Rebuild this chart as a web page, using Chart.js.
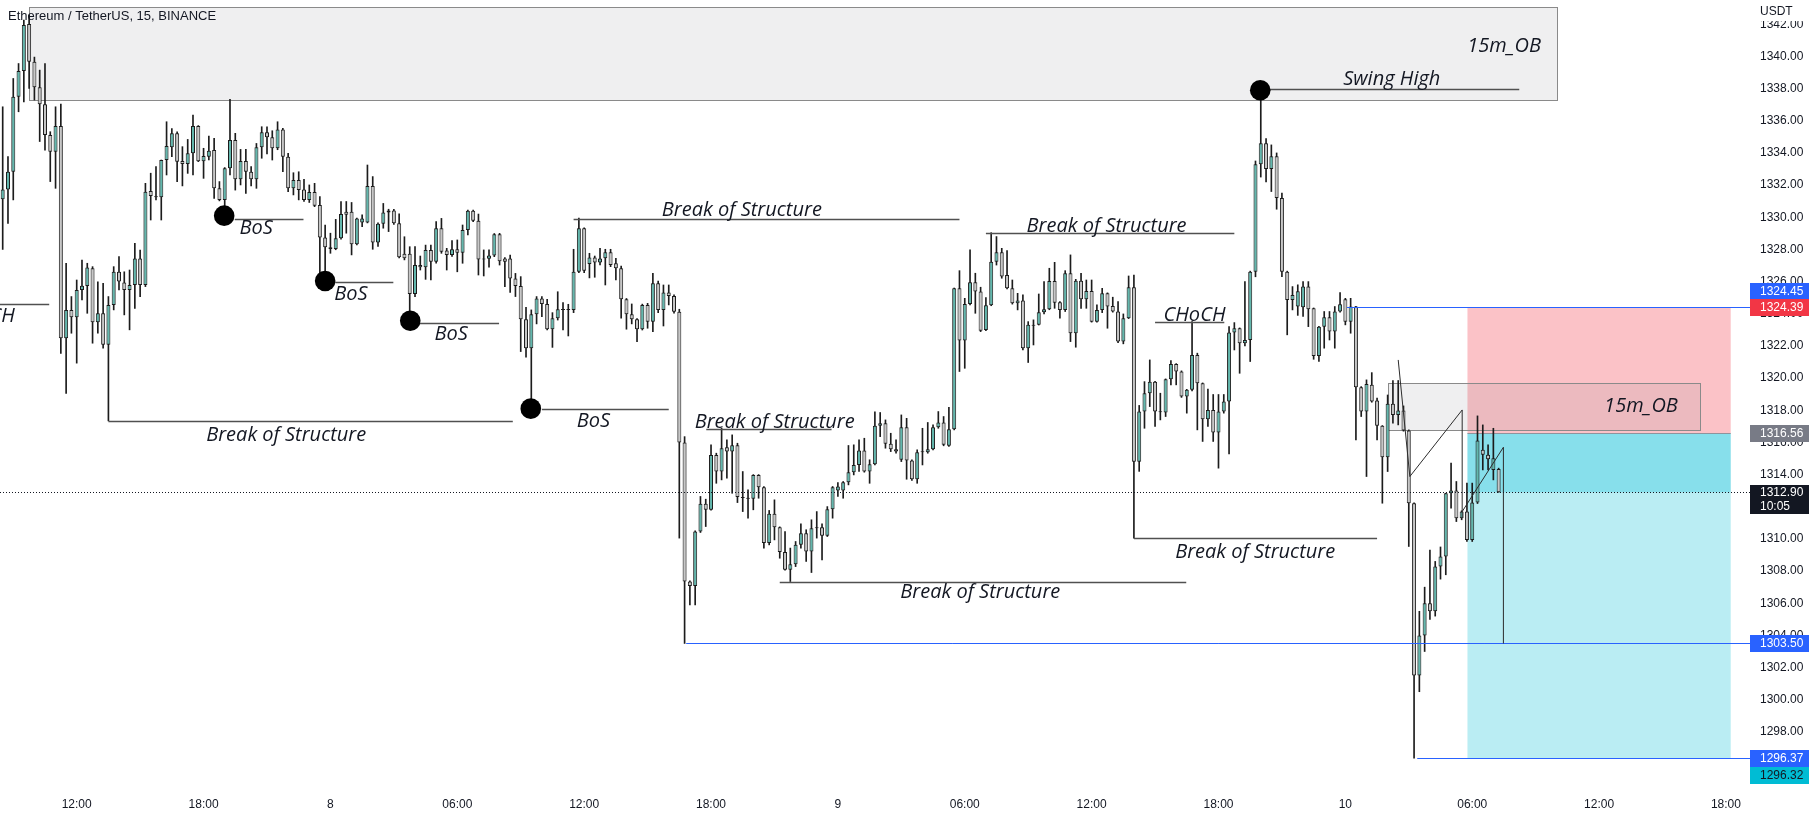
<!DOCTYPE html>
<html><head><meta charset="utf-8">
<script src="https://cdn.jsdelivr.net/npm/chart.js@4.4.1/dist/chart.umd.min.js"></script>
<style>
html,body{margin:0;padding:0;background:#fff;}
canvas{display:block;}
</style></head><body>
<canvas id="c" width="1814" height="818"></canvas>
<script>
// ---- data: 15m candles, bar index 0 = 12:00 on the 7th ----
const firstBar = -14;
const opens = [
1331.12,1331.73,1332.83,1337.49,1339.09,1342.01,1339.67,1338.08,1337.02,1335.11,
1334.08,1335.67,1322.47,1324.24,1323.78,1325.48,1325.72,1326.83,1323.47,1324.03,
1322.07,1324.54,1326.61,1325.94,1325.48,1325.79,1327.44,1325.79,1331.63,1331.30,
1331.24,1333.56,1334.35,1335.22,1333.50,1333.31,1333.98,1335.67,1333.48,1333.77,
1334.18,1331.80,1331.08,1333.05,1334.80,1332.36,1333.50,1332.83,1332.36,1334.35,
1335.28,1334.97,1334.29,1335.46,1333.77,1331.80,1332.32,1331.73,1331.08,1331.57,
1330.76,1328.75,1328.14,1328.02,1328.69,1330.35,1330.35,1328.32,1329.67,1329.67,
1331.95,1328.43,1329.59,1330.29,1330.42,1329.63,1327.73,1327.73,1325.23,1327.03,
1326.89,1327.97,1327.24,1329.31,1327.93,1327.66,1328.01,1327.80,1329.21,1330.40,
1329.79,1327.38,1327.42,1327.63,1328.94,1327.44,1327.44,1326.20,1325.72,1323.66,
1321.86,1323.97,1324.95,1324.61,1323.04,1323.72,1324.28,1324.24,1324.24,1326.61,
1329.31,1327.10,1327.50,1327.18,1327.45,1327.82,1327.14,1326.83,1324.90,1323.97,
1323.66,1323.04,1324.55,1323.51,1325.90,1324.24,1325.32,1325.11,1324.13,1315.99,
1307.35,1307.08,1310.46,1312.18,1311.81,1315.22,1314.19,1315.70,1315.43,1315.83,
1312.60,1312.55,1312.49,1313.98,1313.22,1309.74,1311.56,1310.73,1309.18,1308.08,
1308.43,1309.63,1310.36,1309.22,1310.67,1310.73,1310.19,1311.85,1313.01,1313.01,
1313.52,1314.15,1314.60,1315.50,1314.19,1314.65,1317.03,1317.19,1315.91,1315.58,
1314.92,1316.95,1314.87,1313.71,1315.39,1315.39,1315.58,1316.95,1317.24,1315.79,
1316.82,1325.58,1322.33,1324.61,1325.96,1325.38,1322.99,1324.53,1327.24,1327.82,
1326.41,1325.58,1324.65,1324.82,1321.86,1323.31,1323.31,1324.09,1324.28,1326.04,
1324.71,1324.24,1326.52,1322.79,1326.06,1324.90,1325.42,1323.51,1324.24,1325.27,
1324.49,1324.14,1322.27,1323.72,1325.65,1314.80,1317.92,1319.06,1319.78,1317.92,
1317.86,1319.93,1320.88,1320.41,1318.85,1319.27,1321.44,1319.68,1317.44,1318.02,
1316.62,1317.92,1318.54,1322.83,1323.10,1322.17,1322.37,1326.62,1333.30,1334.60,
1333.00,1333.80,1331.20,1326.62,1324.86,1324.45,1324.40,1325.69,1324.34,1321.38,
1323.20,1323.78,1322.89,1324.14,1324.90,1323.51,1324.45,1319.43,1317.92,1319.58,
1318.60,1317.03,1315.08,1318.40,1317.71,1317.98,1316.74,1312.22,1301.50,1304.00,
1306.00,1305.50,1308.29,1308.91,1312.84,1313.01,1311.29,1311.70,1309.94,1312.26,
1315.54,1315.23,1314.29,1314.34];
const highs = [
1336.87,1333.77,1338.63,1339.56,1342.26,1342.57,1339.96,1339.15,1339.56,1335.32,
1336.87,1337.04,1327.14,1325.07,1326.10,1327.34,1327.14,1326.93,1325.99,1325.89,
1325.07,1326.93,1327.56,1326.61,1326.72,1328.38,1327.96,1332.11,1332.74,1333.15,
1333.56,1335.94,1335.52,1335.32,1334.39,1334.84,1336.35,1335.70,1334.29,1335.05,
1334.91,1332.22,1333.09,1337.33,1335.22,1334.22,1334.22,1333.15,1334.59,1335.63,
1335.63,1335.38,1335.94,1335.53,1333.98,1332.77,1332.83,1332.36,1332.01,1332.11,
1331.28,1329.52,1329.01,1329.87,1330.98,1330.98,1330.92,1329.95,1330.15,1333.25,
1332.53,1329.65,1330.86,1330.50,1330.50,1330.21,1328.79,1328.17,1328.17,1327.59,
1328.27,1328.27,1329.73,1329.93,1328.07,1328.55,1328.59,1329.52,1330.45,1330.45,
1330.20,1327.97,1327.97,1328.99,1329.00,1327.50,1327.65,1326.51,1326.31,1324.40,
1324.24,1325.07,1325.07,1324.89,1324.07,1325.37,1324.69,1324.59,1328.01,1329.95,
1329.35,1327.76,1327.59,1328.07,1328.01,1328.01,1327.45,1326.97,1324.95,1324.61,
1323.70,1324.60,1324.65,1326.52,1326.04,1325.79,1325.79,1325.17,1324.28,1316.36,
1307.40,1310.50,1312.64,1312.47,1315.85,1315.33,1316.88,1316.16,1316.47,1315.95,
1314.19,1313.05,1314.00,1314.00,1313.25,1311.77,1312.43,1310.75,1310.46,1309.43,
1309.84,1310.94,1310.57,1311.19,1311.70,1310.94,1312.01,1313.26,1313.51,1313.57,
1315.81,1315.85,1316.16,1316.26,1314.92,1317.90,1317.86,1317.40,1316.57,1316.16,
1317.71,1317.50,1314.92,1315.54,1316.88,1317.24,1317.09,1317.92,1317.61,1318.19,
1325.60,1326.68,1324.96,1327.97,1326.52,1325.65,1325.00,1329.04,1328.80,1328.07,
1327.93,1326.10,1325.27,1325.17,1323.51,1323.62,1325.23,1326.00,1326.83,1327.20,
1324.75,1326.68,1327.66,1326.14,1326.52,1326.10,1326.10,1324.55,1325.58,1325.30,
1325.03,1324.76,1323.99,1326.35,1326.41,1318.30,1319.78,1321.13,1319.80,1319.06,
1319.95,1321.09,1320.90,1320.45,1319.30,1323.51,1321.55,1319.70,1319.31,1318.98,
1318.98,1318.98,1323.20,1323.45,1323.12,1326.00,1326.65,1333.50,1337.90,1334.90,
1334.50,1334.00,1331.50,1326.65,1325.69,1325.80,1326.00,1326.00,1324.36,1323.22,
1324.14,1324.14,1324.45,1325.31,1324.96,1324.96,1324.47,1319.47,1319.89,1320.34,
1318.75,1317.05,1318.95,1319.85,1319.85,1318.27,1316.78,1312.25,1305.50,1307.00,
1309.30,1308.60,1309.50,1312.84,1314.71,1313.57,1311.75,1313.47,1313.47,1317.65,
1317.09,1315.85,1316.88,1314.40];
const lows = [
1328.00,1329.62,1331.08,1336.56,1337.18,1338.01,1337.29,1334.71,1334.18,1332.22,
1331.80,1321.54,1319.05,1322.79,1320.93,1324.86,1324.03,1322.17,1322.79,1321.86,
1317.34,1324.24,1325.48,1323.93,1323.00,1324.34,1325.07,1325.69,1329.83,1331.08,
1329.83,1332.63,1333.77,1332.22,1331.95,1332.73,1332.63,1333.46,1332.42,1333.56,
1331.18,1331.02,1330.66,1332.63,1331.69,1332.01,1331.49,1331.95,1331.80,1333.67,
1333.94,1333.56,1334.20,1332.83,1331.59,1331.39,1331.08,1330.98,1330.92,1330.66,
1326.52,1326.42,1327.76,1327.98,1328.64,1329.01,1327.66,1328.28,1329.42,1329.65,
1328.01,1328.18,1329.32,1329.11,1329.55,1327.48,1327.35,1324.00,1325.06,1326.72,
1326.14,1326.10,1327.14,1327.76,1326.72,1327.56,1326.61,1327.14,1328.91,1329.73,
1326.41,1326.35,1326.89,1327.55,1327.03,1325.68,1325.33,1325.07,1321.65,1321.30,
1318.12,1323.37,1323.82,1323.00,1321.91,1323.61,1323.00,1322.62,1324.07,1326.55,
1326.55,1326.23,1326.27,1327.03,1325.79,1326.93,1326.10,1323.72,1323.04,1323.37,
1322.27,1322.99,1323.10,1322.89,1324.07,1323.24,1324.55,1324.03,1310.05,1303.50,
1305.90,1305.90,1310.40,1310.77,1311.78,1313.46,1313.67,1313.78,1312.84,1312.26,
1311.70,1311.29,1311.81,1312.53,1309.43,1309.63,1309.94,1308.80,1308.05,1307.35,
1308.28,1309.43,1308.60,1307.91,1310.05,1308.70,1310.15,1311.29,1312.64,1312.53,
1313.36,1313.98,1314.19,1314.15,1313.46,1314.60,1316.36,1315.64,1315.43,1315.33,
1314.81,1313.71,1313.63,1313.46,1314.60,1315.33,1315.54,1316.88,1315.79,1315.75,
1316.78,1320.41,1320.61,1324.55,1324.03,1322.89,1322.95,1324.50,1327.03,1326.21,
1325.55,1324.60,1324.24,1321.75,1320.97,1322.06,1323.30,1323.99,1324.25,1324.34,
1323.72,1324.14,1322.27,1321.92,1324.34,1324.34,1323.48,1323.48,1324.07,1323.10,
1324.10,1322.21,1322.13,1323.70,1310.05,1314.20,1316.88,1318.23,1316.99,1317.40,
1317.61,1319.58,1319.58,1318.80,1317.82,1319.20,1316.78,1316.06,1316.99,1316.06,
1314.40,1317.82,1315.29,1321.75,1320.30,1322.00,1321.03,1326.30,1332.50,1332.20,
1331.60,1330.50,1326.31,1322.69,1324.24,1323.90,1323.83,1323.20,1321.17,1321.03,
1321.86,1322.37,1321.86,1324.10,1323.31,1322.79,1316.16,1317.61,1313.88,1318.50,
1316.16,1312.22,1314.19,1317.19,1317.09,1316.70,1309.53,1296.37,1300.50,1303.00,
1305.00,1305.20,1307.50,1307.77,1311.91,1311.08,1311.19,1309.84,1309.84,1312.20,
1314.29,1314.29,1313.67,1312.90];
const closes = [
1331.73,1332.83,1337.49,1339.09,1341.95,1339.67,1338.08,1337.02,1335.11,1334.08,
1335.67,1322.47,1324.24,1323.78,1325.48,1325.74,1326.87,1323.47,1324.03,1322.07,
1324.54,1326.61,1326.00,1325.48,1325.79,1327.44,1325.79,1331.59,1331.32,1331.24,
1333.56,1334.43,1335.22,1333.46,1333.31,1333.98,1335.67,1333.48,1333.81,1334.14,
1331.80,1331.08,1333.05,1334.80,1332.36,1333.50,1332.83,1332.36,1334.35,1335.28,
1334.97,1334.29,1335.46,1333.77,1331.80,1332.32,1331.69,1331.08,1331.57,1330.72,
1328.75,1328.14,1328.02,1328.69,1330.21,1330.15,1328.32,1329.93,1329.93,1331.95,
1328.43,1329.59,1330.29,1330.42,1329.63,1327.52,1327.45,1325.23,1327.03,1326.89,
1327.97,1327.24,1329.31,1327.86,1327.66,1328.01,1327.80,1329.21,1330.40,1329.79,
1327.38,1327.42,1327.63,1328.94,1327.26,1327.24,1326.20,1325.72,1323.66,1321.86,
1323.97,1324.95,1324.61,1323.04,1323.72,1324.28,1324.24,1324.28,1326.61,1329.31,
1326.68,1327.50,1327.18,1327.44,1327.82,1327.04,1326.83,1324.90,1323.97,1323.66,
1323.04,1324.55,1323.51,1325.90,1324.24,1325.32,1325.11,1324.13,1315.99,1307.35,
1307.08,1310.46,1312.18,1311.81,1315.22,1314.19,1315.64,1315.43,1315.83,1312.60,
1312.55,1312.49,1313.98,1313.22,1309.74,1311.56,1310.73,1309.18,1308.08,1308.43,
1309.63,1310.36,1309.22,1310.67,1310.73,1310.19,1311.85,1313.22,1313.26,1313.52,
1314.15,1314.60,1315.50,1314.19,1314.65,1317.03,1317.19,1315.91,1315.58,1315.43,
1316.95,1314.87,1313.71,1315.39,1315.43,1315.58,1316.95,1317.24,1315.85,1316.82,
1325.58,1322.33,1324.61,1325.96,1325.38,1322.95,1324.53,1327.24,1327.82,1326.31,
1325.58,1324.65,1324.82,1321.86,1323.31,1323.26,1324.09,1324.28,1326.04,1324.69,
1324.24,1326.52,1322.79,1326.06,1324.90,1325.42,1323.51,1324.24,1325.27,1324.45,
1324.14,1322.27,1323.72,1325.65,1314.80,1317.92,1319.06,1319.78,1317.92,1317.88,
1319.93,1320.88,1320.41,1318.85,1319.27,1321.44,1319.68,1317.44,1318.02,1316.62,
1317.92,1318.54,1322.83,1323.10,1322.17,1322.37,1326.62,1333.30,1334.60,1333.00,
1333.80,1331.20,1326.62,1324.86,1325.17,1325.40,1325.69,1324.28,1321.38,1323.20,
1323.78,1322.89,1324.14,1324.59,1323.51,1324.45,1319.43,1317.92,1319.64,1318.54,
1317.03,1315.08,1318.40,1317.71,1317.98,1316.74,1312.22,1301.50,1304.00,1306.00,
1305.50,1308.29,1308.91,1312.84,1313.01,1311.29,1311.70,1309.94,1312.26,1316.12,
1315.23,1314.96,1315.02,1312.90];

// time axis tick labels (bar index -> label)
const timeTickIdx = [0,24,48,72,96,120,144,168,192,216,240,264,288,312];
const timeTickLabels = ['12:00','18:00','8','06:00','12:00','18:00','9','06:00','12:00','18:00','10','06:00','12:00','18:00'];
// price axis ticks
const priceTickFrom = 1296, priceTickTo = 1342, priceTickStep = 2;

// drawing objects (bar index, price)
const obBoxes = [
  {x0:-9, x1:280, lo:1337.29, hi:1343.09},
  {x0:248.1, x1:307.1, lo:1316.78, hi:1319.68}
];
const trade = {x0:263.1, x1:312.9, stop:1324.39, entry:1316.56, target:1296.37, last:1312.90};
const structLines = [
  [29.9,42.9,1329.91],[48.9,59.9,1325.98],[64.9,79.9,1323.45],[88.0,112.0,1318.07],
  [6,82.5,1317.34],[94,167,1329.92],[172,219,1329.04],[119.1,142.8,1316.82],
  [133,209.9,1307.35],[200,246,1310.05],[204,217.1,1323.51],[-15,-5.2,1324.59],
  [223.9,272.9,1337.96]
];
const swingPoints = [[27.9,1330.10],[47.0,1326.04],[63.1,1323.57],[85.9,1318.10],[223.9,1337.9]];
const notes = [
  ['Break of Structure',24.5,1316.47,'left'],['Break of Structure',110.7,1330.42,'left'],
  ['Break of Structure',179.7,1329.42,'left'],['Break of Structure',116.9,1317.23,'left'],
  ['Break of Structure',155.8,1306.71,'left'],['Break of Structure',207.8,1309.18,'left'],
  ['BoS',30.8,1329.32,'left'],['BoS',48.7,1325.23,'left'],['BoS',67.7,1322.75,'left'],['BoS',94.6,1317.30,'left'],
  ['CHoCH',205.6,1323.93,'left'],['CHoCH',-11.7,1323.82,'right'],
  ['Swing High',239.6,1338.58,'left'],['15m_OB',277,1340.65,'right'],['15m_OB',302.9,1318.27,'right']
];
const blueRays = [[240.3,1324.45],[115.3,1303.50],[253.6,1296.37]];
const pathA = [[250.0,1321.13],[252.2,1313.88],[262.1,1318.02],[262.1,1311.29]];
const pathB = [[262.1,1311.70],[269.9,1315.70],[269.9,1303.50]];
const priceTags = [
  [1324.45,'#2962ff','#ffffff',-15],[1324.39,'#f23645','#ffffff',0],[1316.56,'#787b86','#ffffff',0],
  [1303.50,'#2962ff','#ffffff',0],[1296.37,'#2962ff','#ffffff',0],[1296.32,'#00bcd4','#131722',16.5]
];

const UP = '#63b7ad', DOWN = '#c7c7c7', EDGE = '#1c1c1c';
const bars = opens.map((o,k)=>firstBar+k);
const bodies = bars.map((x,k)=>({x, y:[opens[k], closes[k]]}));
const wicks = bars.map((x,k)=>({x, y:[lows[k], highs[k]]}));

const overlay = {
  id:'overlay',
  beforeDatasetsDraw(chart){
    const {ctx, chartArea:a, scales:{x,y}} = chart;
    const X=v=>x.getPixelForValue(v), Y=v=>y.getPixelForValue(v);
    ctx.save();
    ctx.beginPath(); ctx.rect(a.left,a.top,a.right-a.left,a.bottom-a.top); ctx.clip();
    const t = trade;
    ctx.fillStyle='rgba(242,54,69,0.30)';
    ctx.fillRect(X(t.x0),Y(t.stop),X(t.x1)-X(t.x0),Y(t.entry)-Y(t.stop));
    ctx.fillStyle='rgba(0,188,212,0.27)';
    ctx.fillRect(X(t.x0),Y(t.entry),X(t.x1)-X(t.x0),Y(t.target)-Y(t.entry));
    ctx.fillStyle='rgba(0,188,212,0.28)';
    ctx.fillRect(X(t.x0),Y(t.entry),X(t.x1)-X(t.x0),Y(t.last)-Y(t.entry));
    ctx.strokeStyle='#8f939c'; ctx.lineWidth=1;
    ctx.beginPath(); const ye=Math.round(Y(t.entry))+0.5; ctx.moveTo(X(t.x0),ye); ctx.lineTo(X(t.x1),ye); ctx.stroke();
    obBoxes.forEach(b=>{
      const x0=Math.round(X(b.x0))+0.5, x1=Math.round(X(b.x1))+0.5, y0=Math.round(Y(b.hi))+0.5, y1=Math.round(Y(b.lo))+0.5;
      ctx.fillStyle='rgba(120,123,134,0.12)';
      ctx.fillRect(x0,y0,x1-x0,y1-y0);
      ctx.strokeStyle='#8a8a8a'; ctx.lineWidth=1;
      ctx.strokeRect(x0,y0,x1-x0,y1-y0);
    });
    ctx.restore();
  },
  afterDatasetsDraw(chart){
    const {ctx, chartArea:a, scales:{x,y}} = chart;
    const X=v=>x.getPixelForValue(v), Y=v=>y.getPixelForValue(v);
    ctx.save();
    ctx.beginPath(); ctx.rect(a.left,a.top,a.right-a.left,a.bottom-a.top); ctx.clip();
    ctx.strokeStyle='#2962ff'; ctx.lineWidth=1;
    blueRays.forEach(r=>{const yy=Math.round(Y(r[1]))+0.5; ctx.beginPath(); ctx.moveTo(X(r[0]),yy); ctx.lineTo(a.right,yy); ctx.stroke();});
    ctx.strokeStyle='#505050'; ctx.lineWidth=1.3;
    structLines.forEach(s=>{const yy=Math.round(Y(s[2]))+0.5; ctx.beginPath(); ctx.moveTo(X(s[0]),yy); ctx.lineTo(X(s[1]),yy); ctx.stroke();});
    ctx.strokeStyle='#2b2b2b'; ctx.lineWidth=1;
    [pathA,pathB].forEach(pa=>{ctx.beginPath(); pa.forEach((p,i)=>{const px=X(p[0]),py=Y(p[1]); i?ctx.lineTo(px,py):ctx.moveTo(px,py);}); ctx.stroke();});
    ctx.fillStyle='#000';
    swingPoints.forEach(p=>{ctx.beginPath(); ctx.arc(X(p[0]),Y(p[1]),10.3,0,Math.PI*2); ctx.fill();});
    ctx.fillStyle='#131722'; ctx.textBaseline='middle';
    ctx.font='italic 20px "Open Sans"';
    notes.forEach(n=>{ctx.textAlign=n[3]; ctx.fillText(n[0],X(n[1]),Y(n[2]));});
    ctx.strokeStyle='#131722'; ctx.lineWidth=1; ctx.setLineDash([1,2]);
    const yl=Math.round(Y(trade.last))+0.5;
    ctx.beginPath(); ctx.moveTo(a.left,yl); ctx.lineTo(a.right,yl); ctx.stroke();
    ctx.setLineDash([]);
    ctx.restore();
  },
  afterDraw(chart){
    const {ctx, chartArea:a, scales:{y}} = chart;
    const Y=v=>y.getPixelForValue(v);
    ctx.save();
    const L=a.right, W=59;
    ctx.textAlign='left'; ctx.textBaseline='middle'; ctx.font='12px "Liberation Sans"';
    priceTags.forEach(t=>{
      const yc=Y(t[0])+t[3];
      ctx.fillStyle=t[1]; ctx.fillRect(L,Math.round(yc-8.5),W,17);
      ctx.fillStyle=t[2]; ctx.fillText(t[0].toFixed(2),L+10,yc+0.5);
    });
    const yl=Y(trade.last);
    ctx.fillStyle='#131722'; ctx.fillRect(L,Math.round(yl-7.5),W,29);
    ctx.fillStyle='#ffffff'; ctx.fillText(trade.last.toFixed(2),L+10,yl+0.5);
    ctx.fillText('10:05',L+10,yl+14);
    ctx.fillStyle='#ffffff'; ctx.fillRect(L,0,chart.width-L,21);
    ctx.fillStyle='#131722'; ctx.fillText('USDT',L+10,12);
    ctx.font='13px "Liberation Sans"'; ctx.fillStyle='#131722';
    ctx.fillText('Ethereum / TetherUS, 15, BINANCE',8,16);
    ctx.restore();
  }
};

Chart.defaults.font.family='"Liberation Sans", Arial, sans-serif';
Chart.defaults.color='#131722';
new Chart(document.getElementById('c'),{
  type:'bar',
  data:{datasets:[
    {data:bodies, grouped:false, order:1, categoryPercentage:1, barPercentage:0.8, maxBarThickness:4,
     borderWidth:1, borderColor:EDGE, borderSkipped:false, minBarLength:1,
     backgroundColor:c=>{const k=c.dataIndex; return closes[k]>=opens[k]?UP:DOWN;}},
    {data:wicks, grouped:false, order:2, categoryPercentage:1, barPercentage:1, maxBarThickness:1,
     borderWidth:0, backgroundColor:EDGE}
  ]},
  options:{
    responsive:false, animation:false, devicePixelRatio:1,
    layout:{padding:0},
    plugins:{legend:{display:false}, tooltip:{enabled:false}},
    scales:{
      x:{type:'linear', bounds:'data', offset:false, min:-14.51, max:316.55,
         grid:{display:false, drawTicks:false}, border:{display:false},
         afterBuildTicks:s=>{s.ticks=timeTickIdx.map(v=>({value:v}));},
         afterFit:s=>{s.height=29; s.paddingLeft=0; s.paddingRight=0;},
         ticks:{autoSkip:false, maxRotation:0, padding:8, font:{size:12}, color:'#131722',
           callback:v=>{const k=timeTickIdx.indexOf(v); return k>=0?timeTickLabels[k]:'';}}},
      y:{type:'linear', position:'right', bounds:'data', min:1294.45, max:1343.51,
         grid:{display:false, drawTicks:false}, border:{display:false},
         afterBuildTicks:s=>{const t=[]; for(let v=priceTickFrom; v<=priceTickTo; v+=priceTickStep) t.push({value:v}); s.ticks=t;},
         afterFit:s=>{s.width=64; s.paddingTop=0; s.paddingBottom=0;},
         ticks:{autoSkip:false, padding:10, font:{size:12}, color:'#131722',
           callback:v=>v.toFixed(2)}}
    }
  },
  plugins:[overlay]
});
</script>
</body></html>
